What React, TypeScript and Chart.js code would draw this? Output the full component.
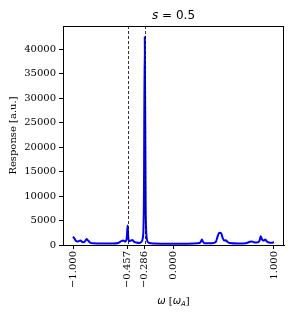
import React, { useEffect, useRef } from "react";
import { Chart, registerables } from "chart.js";
Chart.register(...registerables);

const omega = [-1.0, -0.985, -0.97, -0.955, -0.94, -0.925, -0.91, -0.895, -0.88, -0.865, -0.85, -0.83, -0.8, -0.7, -0.6, -0.55, -0.52, -0.5, -0.48, -0.465, -0.457, -0.45, -0.44, -0.425, -0.41, -0.395, -0.37, -0.34, -0.32, -0.305, -0.295, -0.286, -0.277, -0.267, -0.255, -0.24, -0.2, 0.0, 0.2, 0.26, 0.275, 0.283, 0.292, 0.31, 0.38, 0.42, 0.44, 0.455, 0.475, 0.49, 0.505, 0.52, 0.535, 0.56, 0.65, 0.72, 0.76, 0.78, 0.8, 0.83, 0.855, 0.868, 0.88, 0.895, 0.915, 0.93, 0.95, 0.975, 1.0];
const response = [1700, 1300, 800, 700, 850, 900, 650, 550, 800, 1200, 900, 500, 350, 300, 300, 400, 800, 900, 700, 1500, 4000, 1500, 800, 900, 1000, 700, 500, 400, 600, 1500, 8000, 42500, 8000, 1500, 600, 400, 300, 250, 300, 400, 800, 1100, 700, 350, 350, 600, 1800, 2500, 2400, 1400, 900, 950, 700, 400, 300, 350, 650, 700, 550, 500, 800, 1800, 1200, 900, 1100, 700, 500, 450, 550];
const xTicks = [-1.0, -0.457, -0.286, 0.0, 1.0];
const markers = [-0.457, -0.286];
const yTicks = [0, 5000, 10000, 15000, 20000, 25000, 30000, 35000, 40000];

type Piece = { t: string; font: string; dy?: number };

function drawPieces(ctx: CanvasRenderingContext2D, pieces: Piece[], cx: number, y: number) {
  let total = 0;
  pieces.forEach((p) => {
    ctx.font = p.font;
    total += ctx.measureText(p.t).width;
  });
  let x = cx - total / 2;
  ctx.textAlign = "left";
  ctx.textBaseline = "alphabetic";
  pieces.forEach((p) => {
    ctx.font = p.font;
    ctx.fillText(p.t, x, y + (p.dy || 0));
    x += ctx.measureText(p.t).width;
  });
}

export default function App() {
  const ref = useRef<HTMLCanvasElement>(null);
  useEffect(() => {
    document.body.style.margin = "0";
    const overlay = {
      id: "overlay",
      afterDatasetsDraw(chart: any) {
        const { ctx, chartArea, scales } = chart;
        ctx.save();
        ctx.strokeStyle = "#000";
        ctx.lineWidth = 0.8;
        ctx.setLineDash([3, 2]);
        markers.forEach((m) => {
          const px = Math.round(scales.x.getPixelForValue(m)) + 0.5;
          ctx.beginPath();
          ctx.moveTo(px, chartArea.top);
          ctx.lineTo(px, chartArea.bottom);
          ctx.stroke();
        });
        ctx.setLineDash([]);
        ctx.fillStyle = "#000";
        const cx = (chartArea.left + chartArea.right) / 2;
        drawPieces(
          ctx,
          [
            { t: "s", font: "italic 12px 'DejaVu Sans'" },
            { t: " = 0.5", font: "12px 'DejaVu Sans'" },
          ],
          cx,
          19
        );
        drawPieces(
          ctx,
          [
            { t: "\u03c9", font: "italic 10px 'DejaVu Sans'" },
            { t: " [", font: "10px 'DejaVu Serif'" },
            { t: "\u03c9", font: "italic 10px 'DejaVu Sans'" },
            { t: "A", font: "italic 7px 'DejaVu Sans'", dy: 2 },
            { t: "]", font: "10px 'DejaVu Serif'" },
          ],
          cx,
          304
        );
        ctx.restore();
      },
    };
    const chart = new Chart(ref.current!, {
      type: "line",
      data: {
        datasets: [
          {
            data: omega.map((x, i) => ({ x, y: response[i] })),
            borderColor: "#0000ff",
            borderWidth: 2,
            pointRadius: 0,
            cubicInterpolationMode: "monotone",
            fill: false,
          },
        ],
      },
      options: {
        animation: false,
        responsive: false,
        layout: { padding: { top: 26, right: 9, left: 0, bottom: 0 } },
        plugins: { legend: { display: false }, tooltip: { enabled: false } },
        scales: {
          x: {
            type: "linear",
            min: -1.1,
            max: 1.1,
            afterBuildTicks: (s: any) => {
              s.ticks = xTicks.map((v) => ({ value: v }));
            },
            afterFit: (s: any) => {
              s.height = 71;
            },
            ticks: {
              minRotation: 90,
              maxRotation: 90,
              autoSkip: false,
              color: "#000",
              font: { family: "DejaVu Serif", size: 10 },
              padding: 2,
              callback: (v: any) => (Number(v) < 0 ? "\u2212" : "") + Math.abs(Number(v)).toFixed(3),
            },
            grid: { display: true, drawOnChartArea: false, color: "#000", tickLength: 4 },
            border: { display: true, color: "#000", width: 1 },
          },
          y: {
            type: "linear",
            min: 0,
            max: 44700,
            afterBuildTicks: (s: any) => {
              s.ticks = yTicks.map((v) => ({ value: v }));
            },
            afterFit: (s: any) => {
              s.width = 63;
            },
            ticks: {
              color: "#000",
              font: { family: "DejaVu Serif", size: 10 },
              padding: 3,
              callback: (v: any) => String(v),
            },
            grid: { display: true, drawOnChartArea: false, color: "#000", tickLength: 4 },
            border: { display: true, color: "#000", width: 1 },
            title: {
              display: true,
              text: "Response [a.u.]",
              color: "#000",
              font: { family: "DejaVu Serif", size: 10 },
              padding: { top: 7, bottom: 0 },
            },
          },
        },
      },
      plugins: [
        overlay,
        {
          id: "frame",
          afterDraw(chart: any) {
            const { ctx, chartArea } = chart;
            ctx.save();
            ctx.strokeStyle = "#000";
            ctx.lineWidth = 1;
            ctx.beginPath();
            ctx.moveTo(chartArea.left, chartArea.top + 0.5);
            ctx.lineTo(chartArea.right, chartArea.top + 0.5);
            ctx.moveTo(chartArea.right - 0.5, chartArea.top);
            ctx.lineTo(chartArea.right - 0.5, chartArea.bottom);
            ctx.stroke();
            ctx.restore();
          },
        },
      ],
    } as any);
    return () => chart.destroy();
  }, []);
  return <canvas ref={ref} width={293} height={316} style={{ display: "block" }} />;
}
